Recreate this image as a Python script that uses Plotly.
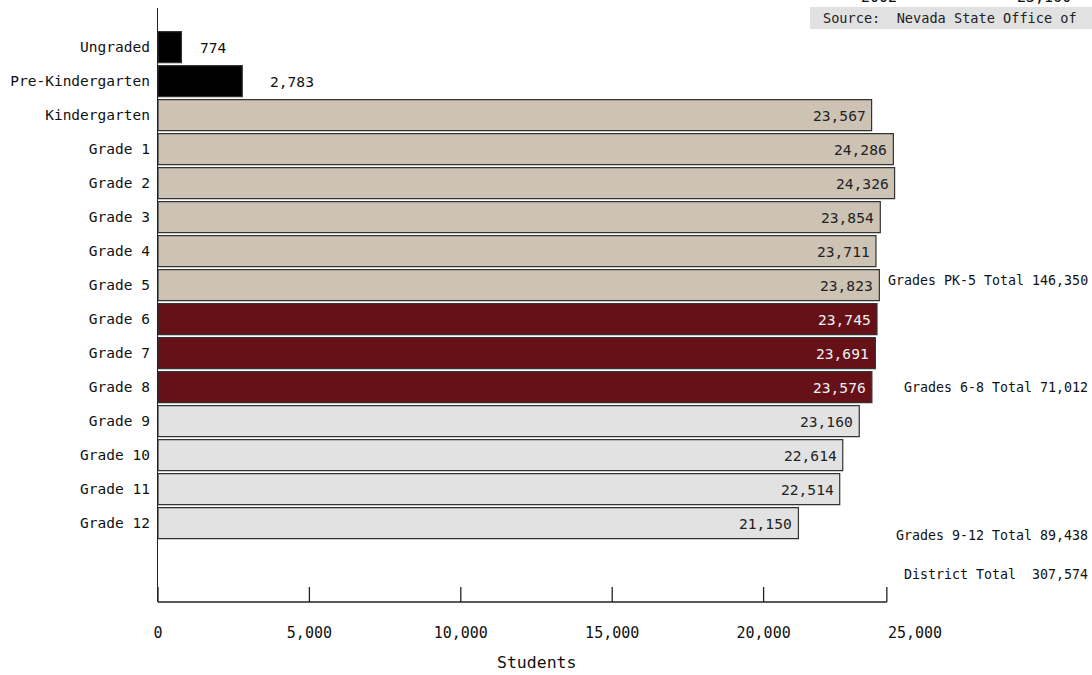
import plotly.graph_objects as go

# ---------------- data ----------------
categories = ["Ungraded", "Pre-Kindergarten", "Kindergarten", "Grade 1", "Grade 2",
              "Grade 3", "Grade 4", "Grade 5", "Grade 6", "Grade 7", "Grade 8",
              "Grade 9", "Grade 10", "Grade 11", "Grade 12"]
students = [774, 2783, 23567, 24286, 24326, 23854, 23711, 23823, 23745, 23691,
            23576, 23160, 22614, 22514, 21150]
groups = ["other", "other", "elem", "elem", "elem", "elem", "elem", "elem",
          "mid", "mid", "mid", "high", "high", "high", "high"]
group_totals = [("Grades PK-5 Total 146,350", 280),
                ("Grades 6-8 Total 71,012", 387),
                ("Grades 9-12 Total 89,438", 535),
                ("District Total  307,574", 574)]
x_ticks = [0, 5000, 10000, 15000, 20000, 25000]
x_title = "Students"
source_text = "Source:  Nevada State Office of"
header_cut = [("2002", 879), ("23,160", 1044)]

# ---------------- styles ----------------
FONT = "DejaVu Sans Mono"
fill = {"other": "#000000", "elem": "#CCC3B5", "mid": "#661018", "high": "#E2E2E2"}
txtc = {"other": "#111111", "elem": "#222222", "mid": "#F2F2F2", "high": "#222222"}

W_FIG, H_FIG = 1092, 675
L, R, T, B = 158, 177, 8, 73
PW, PH = W_FIG - L - R, H_FIG - T - B
AXIS_END = 24070


def px_x(p):
    return (p - L) / PW


def px_y(p):
    return 1 - (p - T) / PH


fig = go.Figure()
fig.add_trace(go.Bar(
    x=students, y=categories, orientation="h",
    marker=dict(color=[fill[g] for g in groups],
                line=dict(color="#333333", width=1.2)),
    hoverinfo="x+y",
))

annotations = []
outside_shift = [17, 26]
for i, (c, v, g) in enumerate(zip(categories, students, groups)):
    if g == "other":
        annotations.append(dict(x=v, y=c, xref="x", yref="y", text=f"{v:,}",
                                showarrow=False, xanchor="left", xshift=outside_shift[i],
                                font=dict(family=FONT, size=14.6, color=txtc[g])))
    else:
        annotations.append(dict(x=v, y=c, xref="x", yref="y", text=f"{v:,}",
                                showarrow=False, xanchor="right", xshift=-4,
                                font=dict(family=FONT, size=14.6, color=txtc[g])))

for text, ypx in group_totals:
    annotations.append(dict(x=px_x(1090), y=px_y(ypx), xref="paper", yref="paper",
                            text=text, showarrow=False, xanchor="right", yanchor="middle",
                            font=dict(family=FONT, size=13.3, color="#111111")))

annotations.append(dict(x=0.5, y=px_y(662), xref="paper", yref="paper", text=x_title,
                        showarrow=False, xanchor="center", yanchor="middle",
                        font=dict(family=FONT, size=16.5, color="#111111")))

for text, xc in header_cut:
    annotations.append(dict(x=px_x(xc), y=px_y(8), xref="paper", yref="paper", text=text,
                            showarrow=False, xanchor="center", yanchor="bottom",
                            font=dict(family=FONT, size=15, color="#111111")))

annotations.append(dict(x=px_x(821), y=px_y(18), xref="paper", yref="paper", text=source_text,
                        showarrow=False, xanchor="left", yanchor="middle",
                        font=dict(family=FONT, size=13.6, color="#222222")))

shapes = [dict(type="rect", xref="paper", yref="paper", x0=px_x(810), x1=px_x(1092),
               y0=px_y(29), y1=px_y(7), fillcolor="#E1E1E1", line=dict(width=0), layer="below")]
# x axis line and ticks
shapes.append(dict(type="line", xref="x", yref="paper", x0=0, x1=AXIS_END, y0=0, y1=0,
                   line=dict(color="#222222", width=1.3)))
for tv in x_ticks[:-1] + [AXIS_END]:
    shapes.append(dict(type="line", xref="x", yref="paper", x0=tv, x1=tv, y0=0, y1=15 / PH,
                       line=dict(color="#222222", width=1.3)))

fig.update_layout(
    width=W_FIG, height=H_FIG,
    margin=dict(l=L, r=R, t=T, b=B, autoexpand=False),
    paper_bgcolor="white", plot_bgcolor="white",
    bargap=0.09,
    showlegend=False,
    annotations=annotations,
    shapes=shapes,
    font=dict(family=FONT, color="#111111"),
)
fig.update_xaxes(range=[0, 25000], tickvals=x_ticks, ticktext=[f"{t:,}" for t in x_ticks],
                 ticks="", showline=False, showgrid=False, zeroline=False,
                 ticklabelstandoff=20, tickfont=dict(family=FONT, size=15, color="#111111"))
fig.update_yaxes(categoryorder="array", categoryarray=categories,
                 range=[16.32, -1.15], showline=True, linecolor="#222222", linewidth=1.3,
                 ticks="", showgrid=False, zeroline=False, ticklabelstandoff=4,
                 tickfont=dict(family=FONT, size=14.5, color="#111111"))

fig.write_html("out.html", config={"displayModeBar": False},
               post_script="document.body.style.margin='0px';document.body.style.overflow='hidden';")
